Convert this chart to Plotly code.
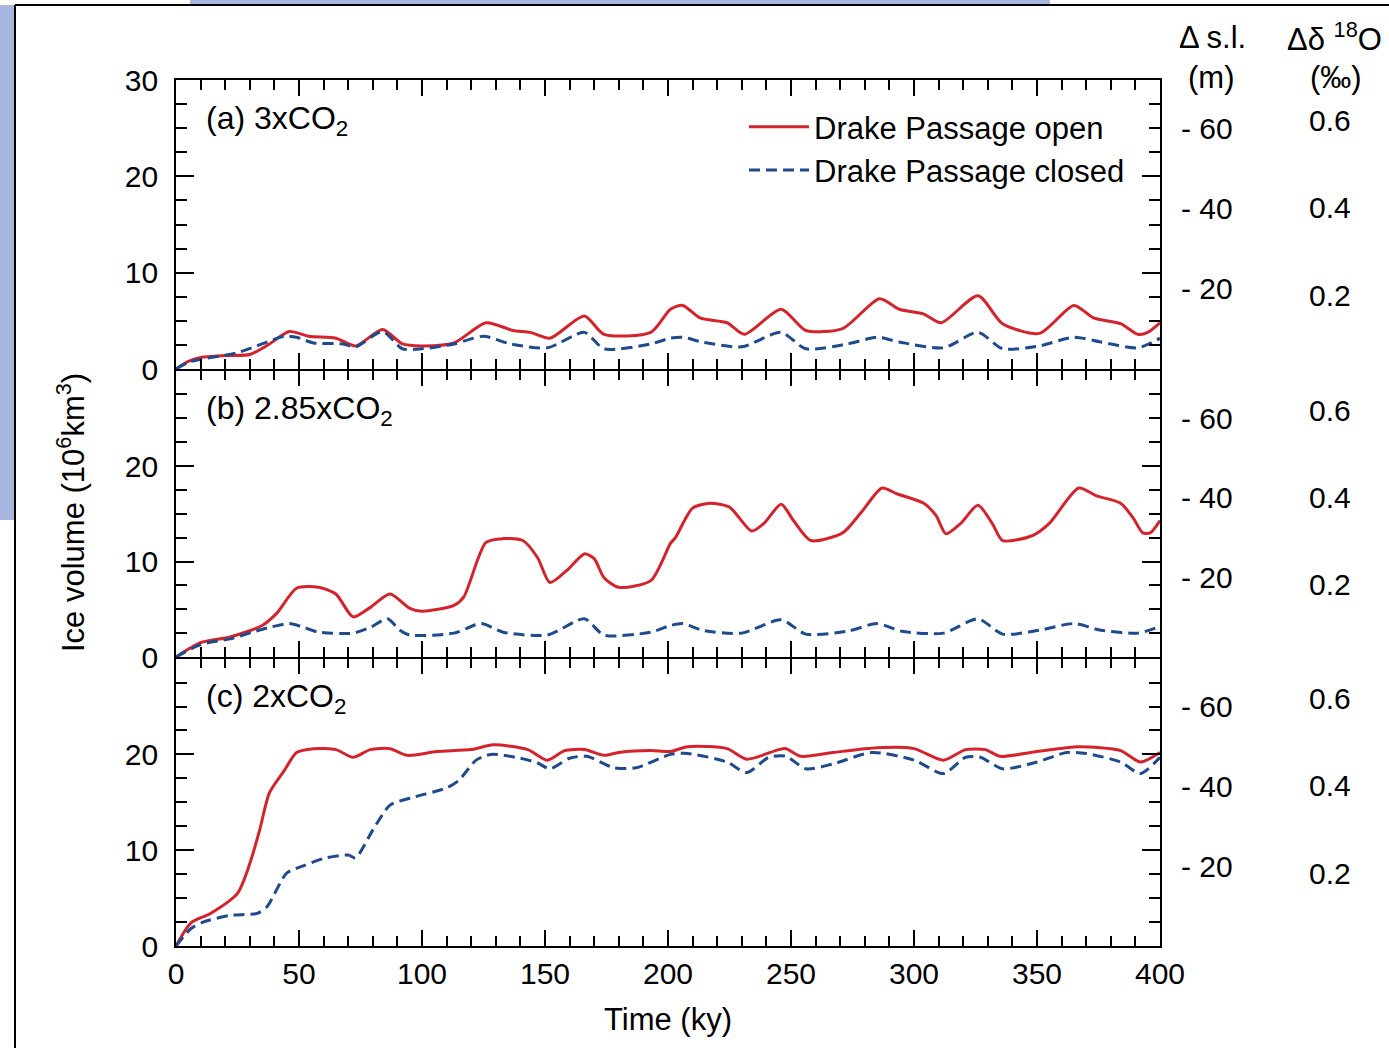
import plotly.graph_objects as go

# ---------------- data: ice volume (10^6 km^3) vs time (ky) ----------------
# (a) 3xCO2
t_a_open = [0, 5, 10, 20, 30, 38, 46, 54, 65, 73, 84, 92, 100, 113, 126, 137, 144, 152, 166, 174,
            193, 201, 206, 213, 224, 231, 246, 256, 271, 286, 294, 304, 311, 326, 336, 351, 365,
            373, 384, 391, 395, 400]
v_a_open = [0, 0.8, 1.2, 1.4, 1.5, 2.6, 3.9, 3.4, 3.2, 2.4, 4.1, 2.6, 2.4, 2.7, 4.8, 4.0, 3.8, 3.2, 5.5, 3.6,
            3.8, 6.2, 6.6, 5.3, 4.8, 3.6, 6.2, 4.0, 4.2, 7.3, 6.2, 5.7, 4.8, 7.6, 4.7, 3.7, 6.6,
            5.3, 4.7, 3.6, 3.8, 4.8]
t_a_closed = [0, 5, 10, 25, 35, 44, 49, 56, 68, 73, 84, 92, 100, 113, 125, 136, 151, 166, 174, 193,
              201, 206, 214, 230, 246, 256, 273, 285, 294, 312, 326, 336, 351, 365, 376, 391, 400]
v_a_closed = [0, 0.7, 1.0, 1.7, 2.6, 3.4, 3.3, 2.7, 2.6, 2.3, 3.9, 2.1, 2.1, 2.6, 3.4, 2.6, 2.2, 3.8, 2.1, 2.6,
              3.2, 3.3, 2.8, 2.3, 3.8, 2.1, 2.6, 3.3, 2.8, 2.2, 3.8, 2.1, 2.4, 3.3, 2.8, 2.2, 3.2]

# (b) 2.85xCO2
t_b_open = [0, 10, 22, 35, 41, 49, 58, 65, 72, 79, 87, 95, 100, 113, 117, 126, 133, 141, 147, 152,
            159, 166, 170, 174, 180, 193, 201, 203, 210, 217, 225, 234, 239, 246, 251, 258, 271,
            279, 287, 293, 304, 309, 313, 319, 326, 332, 336, 348, 355, 367, 374, 384, 389, 393,
            396, 400]
v_b_open = [0, 1.5, 2.1, 3.3, 4.6, 7.2, 7.3, 6.6, 4.2, 5.2, 6.6, 5.1, 4.8, 5.4, 6.3, 12.0, 12.4, 12.2, 10.4, 7.8,
            9.1, 10.8, 10.3, 8.3, 7.3, 8.0, 11.9, 12.5, 15.6, 16.1, 15.7, 13.2, 14.0, 16.0, 14.3, 12.2, 13.0,
            15.3, 17.7, 17.1, 16.1, 14.8, 12.9, 14.0, 15.9, 13.9, 12.2, 12.7, 14.0, 17.7, 16.9, 16.1, 14.6, 13.0,
            13.0, 14.3]
t_b_closed = [0, 10, 22, 31, 38, 46, 52, 58, 72, 79, 86, 91, 95, 113, 124, 133, 151, 166, 174, 193,
              201, 206, 214, 230, 246, 256, 273, 285, 295, 312, 326, 336, 351, 365, 376, 391, 400]
v_b_closed = [0, 1.3, 1.9, 2.6, 3.1, 3.5, 3.1, 2.6, 2.5, 3.1, 4.0, 2.8, 2.3, 2.5, 3.5, 2.6, 2.3, 4.0, 2.3, 2.6,
              3.3, 3.5, 2.8, 2.5, 3.9, 2.4, 2.7, 3.5, 2.7, 2.5, 4.0, 2.4, 2.8, 3.5, 2.8, 2.5, 3.2]

# (c) 2xCO2
t_c_open = [0, 6, 14, 25, 30, 34, 38, 44, 49, 56, 65, 72, 79, 87, 94, 106, 120, 129, 143, 151,
            158, 166, 174, 180, 193, 201, 208, 224, 232, 245, 248, 254, 267, 285, 300, 312, 321,
            329, 335, 350, 367, 384, 392, 400]
v_c_open = [0, 2.4, 3.4, 5.5, 8.6, 12.1, 16.0, 18.3, 20.2, 20.6, 20.5, 19.7, 20.5, 20.6, 19.9, 20.3, 20.5, 21.0, 20.5, 19.4,
            20.4, 20.5, 19.9, 20.2, 20.4, 20.3, 20.8, 20.6, 19.5, 20.5, 20.6, 19.8, 20.2, 20.7, 20.6, 19.4, 20.5,
            20.5, 19.8, 20.3, 20.8, 20.4, 19.2, 20.2]
t_c_closed = [0, 6, 11, 22, 33, 37, 45, 52, 61, 70, 73, 80, 87, 96, 110, 115, 122, 128, 140, 147,
              152, 160, 167, 178, 187, 201, 208, 224, 232, 241, 248, 256, 267, 283, 300, 312, 321,
              327, 336, 350, 362, 370, 384, 392, 400]
v_c_closed = [0, 1.8, 2.5, 3.2, 3.4, 4.1, 7.6, 8.4, 9.2, 9.5, 9.2, 12.1, 14.7, 15.5, 16.5, 17.3, 19.4, 20.0, 19.6, 19.1,
              18.5, 19.6, 19.8, 18.6, 18.6, 20.0, 20.1, 19.2, 18.1, 19.7, 19.8, 18.5, 19.0, 20.2, 19.4, 18.0, 19.7,
              19.7, 18.5, 19.2, 20.2, 20.1, 19.2, 18.0, 19.7]

panels = [
    ("(a) 3xCO<sub>2</sub>", t_a_open, v_a_open, t_a_closed, v_a_closed),
    ("(b) 2.85xCO<sub>2</sub>", t_b_open, v_b_open, t_b_closed, v_b_closed),
    ("(c) 2xCO<sub>2</sub>", t_c_open, v_c_open, t_c_closed, v_c_closed),
]
series_names = ["Drake Passage open", "Drake Passage closed"]

x_ticks = [0, 50, 100, 150, 200, 250, 300, 350, 400]
ice_ticks_top = [0, 10, 20, 30]
ice_ticks = [0, 10, 20]
sl_ticks = [-20, -40, -60]
sl_text = ["- 20", "- 40", "- 60"]
d18o_ticks = [0.2, 0.4, 0.6]
d18o_text = ["0.2", "0.4", "0.6"]

# ---------------- layout geometry ----------------
W, H = 1389, 1048
FONT = "Liberation Sans, Arial, sans-serif"
RED = "#d3232c"
BLUE = "#1f4a8c"
LW = 1.6  # frame line width
x_left, x_right = 176, 1160
# panel (top, bottom) in pixels; adjacent panels are offset by the frame
# width so the shared boundary lines fall on top of each other
panel_px = [(80, 369), (369 + LW, 657), (657 + LW, 946)]
TICK_FS = 30


def px_x(p):
    return p / W


def px_y(p):
    return 1 - p / H


fig = go.Figure()

for i, (label, to, vo, tc, vc) in enumerate(panels):
    n = "" if i == 0 else str(i + 1)
    fig.add_trace(go.Scatter(
        x=to, y=vo, xaxis="x" + n, yaxis="y" + n, mode="lines", name=series_names[0],
        line=dict(color=RED, width=3, shape="spline", smoothing=0.7),
        showlegend=(i == 0), legendrank=1))
    fig.add_trace(go.Scatter(
        x=tc, y=vc, xaxis="x" + n, yaxis="y" + n, mode="lines", name=series_names[1],
        line=dict(color=BLUE, width=3, dash="11px,6px", shape="spline", smoothing=0.7),
        showlegend=(i == 0), legendrank=2))

layout = dict(
    width=W, height=H,
    margin=dict(l=0, r=0, t=0, b=0),
    paper_bgcolor="white", plot_bgcolor="white",
    font=dict(family=FONT, size=TICK_FS, color="black"),
    legend=dict(x=px_x(744), y=px_y(100), xanchor="left", yanchor="top",
                bgcolor="rgba(0,0,0,0)", font=dict(size=31), tracegroupgap=0,
                itemwidth=60),
)

annotations = []
for i in range(3):
    n = "" if i == 0 else str(i + 1)
    top, bot = panel_px[i]
    dom = [px_y(bot), px_y(top)]
    layout["xaxis" + n] = dict(
        domain=[px_x(x_left), px_x(x_right)], anchor="y" + n, range=[0, 400],
        tickvals=x_ticks, showticklabels=(i == 2), ticks="inside", ticklen=16,
        tickwidth=1.5, tickcolor="black", showline=True, linecolor="black", linewidth=LW,
        mirror="ticks", showgrid=False, zeroline=False, automargin=False,
        minor=dict(dtick=10, ticks="inside", ticklen=10, tickwidth=1.5, tickcolor="black",
                   showgrid=False),
        tickfont=dict(size=TICK_FS),
    )
    if i == 2:
        layout["xaxis" + n]["title"] = dict(text="Time (ky)", font=dict(size=31), standoff=20)
    layout["yaxis" + n] = dict(
        domain=dom, anchor="x" + n, range=[0, 30],
        tickvals=ice_ticks_top if i == 0 else ice_ticks,
        ticks="inside", ticklen=18, tickwidth=1.5, tickcolor="black",
        showline=True, linecolor="black", linewidth=LW, mirror="ticks",
        showgrid=False, zeroline=False, automargin=False, ticklabelstandoff=10,
        minor=dict(dtick=2.5, ticks="inside", ticklen=11, tickwidth=1.5, tickcolor="black",
                   showgrid=False),
        tickfont=dict(size=TICK_FS),
    )
    # sea-level equivalent (m) and delta-18O (permil) scales on the right
    layout["yaxis" + str(4 + 2 * i)] = dict(
        overlaying="y" + n, side="right", anchor="free", position=px_x(1180),
        range=[0, -72], tickvals=sl_ticks, ticktext=sl_text, ticks="",
        showline=False, showgrid=False, zeroline=False, automargin=False,
        tickfont=dict(size=TICK_FS),
    )
    layout["yaxis" + str(5 + 2 * i)] = dict(
        overlaying="y" + n, side="right", anchor="free", position=px_x(1308),
        range=[0.0331, 0.6914], tickvals=d18o_ticks, ticktext=d18o_text, ticks="",
        showline=False, showgrid=False, zeroline=False, automargin=False,
        tickfont=dict(size=TICK_FS),
    )
    annotations.append(dict(
        text=panels[i][0], xref="x" + n + " domain", yref="y" + n + " domain",
        x=0.028, y=0.86, xanchor="left", yanchor="middle", showarrow=False,
        font=dict(size=32)))

# the right-hand scales need a trace on each overlay axis to be drawn
for k in range(4, 10):
    fig.add_trace(go.Scatter(x=[None], y=[None], xaxis="x" if k < 6 else ("x2" if k < 8 else "x3"),
                             yaxis="y" + str(k), showlegend=False, hoverinfo="skip"))

annotations += [
    dict(text="Ice volume (10<sup>6</sup>km<sup>3</sup>)", xref="paper", yref="paper",
         x=px_x(71), y=px_y(513), xanchor="center", yanchor="middle", textangle=-90,
         showarrow=False, font=dict(size=31)),
    dict(text="Δ s.l.", xref="paper", yref="paper", x=px_x(1212), y=px_y(37),
         xanchor="center", yanchor="middle", showarrow=False, font=dict(size=31)),
    dict(text="(m)", xref="paper", yref="paper", x=px_x(1211), y=px_y(77),
         xanchor="center", yanchor="middle", showarrow=False, font=dict(size=31)),
    dict(text="Δδ <sup>18</sup>O", xref="paper", yref="paper", x=px_x(1334), y=px_y(37),
         xanchor="center", yanchor="middle", showarrow=False, font=dict(size=31)),
    dict(text="(‰)", xref="paper", yref="paper", x=px_x(1336), y=px_y(77),
         xanchor="center", yanchor="middle", showarrow=False, font=dict(size=31)),
]
layout["annotations"] = annotations

# slide frame and backdrop strips around the figure
layout["shapes"] = [
    dict(type="rect", xref="paper", yref="paper", x0=0, x1=px_x(14), y0=px_y(520), y1=px_y(5),
         fillcolor="#a8b6e0", line=dict(width=0), layer="below"),
    dict(type="rect", xref="paper", yref="paper", x0=px_x(190), x1=px_x(1050), y0=px_y(5), y1=1,
         fillcolor="#a8b6e0", line=dict(width=0), layer="below"),
    dict(type="line", xref="paper", yref="paper", x0=px_x(15), x1=1, y0=px_y(5), y1=px_y(5),
         line=dict(color="black", width=2)),
    dict(type="line", xref="paper", yref="paper", x0=px_x(15), x1=px_x(15), y0=0, y1=px_y(5),
         line=dict(color="black", width=2)),
]

fig.update_layout(**layout)
fig.write_html("out.html")
